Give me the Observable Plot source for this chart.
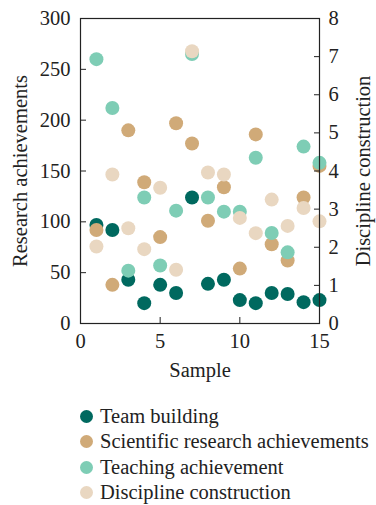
<!DOCTYPE html>
<html>
<head>
<meta charset="utf-8">
<script src="https://cdn.jsdelivr.net/npm/d3@7"></script>
<script src="https://cdn.jsdelivr.net/npm/@observablehq/plot@0.6"></script>
<style>
  html, body { margin: 0; padding: 0; background: #fff; }
  #wrap { position: relative; width: 376px; height: 505px; font-family: "Liberation Serif", "DejaVu Serif", serif; }
  #legend { position: absolute; left: 80px; top: 404px; font-size: 20.5px; color: #222; }
  .row { display: flex; align-items: center; height: 25.3px; }
  .sw { width: 13px; height: 13px; border-radius: 50%; margin-right: 7px; }
</style>
</head>
<body>
<div id="wrap"><div id="chart"></div><div id="legend"></div></div>
<script>
const samples = [1,2,3,4,5,6,7,8,9,10,11,12,13,14,15];
const teamBuilding = [97,92,43,20,38,30,124,39,43,23,20,30,29,21,23];
const scientific = [92,38,190,139,85,197,177,101,134,54,186,78,62,124,155];
const teaching = [260,212,52,124,57,111,265,124,110,110,163,89,70,174,158];
const discipline = [2.02,3.91,2.5,1.95,3.56,1.41,7.14,3.96,3.91,2.77,2.37,3.25,2.56,3.03,2.68];
const seriesNames = ["Team building","Scientific research achievements","Teaching achievement","Discipline construction"];
const seriesColors = ["#00695f","#d0aa78","#7ecdb5","#e9d7c1"];
const xTicks = [0,5,10,15];
const leftTicks = [0,50,100,150,200,250,300];
const rightTicks = [0,1,2,3,4,5,6,7,8];
const k = 300 / 8; // right axis mapping to left scale

const rows = [];
[teamBuilding, scientific, teaching].forEach((arr, si) => {
  arr.forEach((v, i) => rows.push({x: samples[i], y: v, s: seriesNames[si]}));
});
discipline.forEach((v, i) => rows.push({x: samples[i], y: v * k, s: seriesNames[3]}));

const W = 376, H = 385;
const plot = Plot.plot({
  width: W, height: H,
  marginLeft: 80, marginRight: 57, marginTop: 18, marginBottom: H - 323,
  style: {fontFamily: "Liberation Serif, DejaVu Serif, serif", fontSize: "20.5px", color: "#222", background: "#fff"},
  x: {domain: [0, 15], label: null},
  y: {domain: [0, 300], label: null},
  color: {domain: seriesNames, range: seriesColors},
  marks: [
    Plot.dot(rows, {x: "x", y: "y", fill: "s", r: 7}),
    Plot.frame({stroke: "#222", strokeWidth: 1.2}),
    Plot.axisX({ticks: xTicks, tickSize: -6, tickPadding: 16, tickFormat: d => d, label: "Sample", labelAnchor: "center", labelOffset: 53, labelArrow: "none", stroke: "#222"}),
    Plot.axisY({ticks: leftTicks, tickSize: -6, tickPadding: 16, label: "Research achievements", labelAnchor: "center", labelOffset: 68, labelArrow: "none", stroke: "#222"}),
    Plot.axisY({anchor: "right", ticks: rightTicks.map(d => d * k), tickFormat: d => Math.round(d / k), tickSize: -6, tickPadding: 15, label: "Discipline construction", labelAnchor: "center", labelOffset: 50, labelArrow: "none", stroke: "#222"})
  ]
});
document.getElementById("chart").appendChild(plot);

const legend = document.getElementById("legend");
seriesNames.forEach((n, i) => {
  const r = document.createElement("div"); r.className = "row";
  const s = document.createElement("div"); s.className = "sw"; s.style.background = seriesColors[i];
  const t = document.createElement("span"); t.textContent = n;
  r.appendChild(s); r.appendChild(t); legend.appendChild(r);
});
</script>
</body>
</html>
